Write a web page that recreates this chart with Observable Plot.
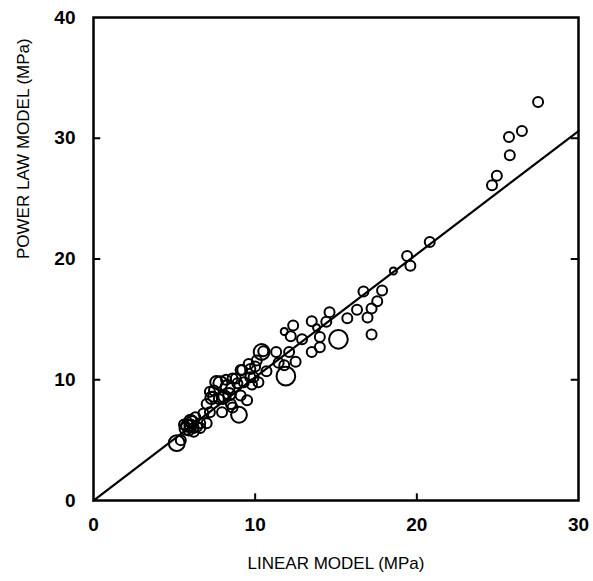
<!DOCTYPE html>
<html><head><meta charset="utf-8">
<script src="https://cdn.jsdelivr.net/npm/d3@7"></script>
<script src="https://cdn.jsdelivr.net/npm/@observablehq/plot@0.6"></script>
<style>body{margin:0;background:#fff} svg{display:block}</style>
</head><body><div id="chart"></div>
<script>
// Linear model stress (MPa), power-law model stress (MPa), relative weight of each point
const linearModel = [
  27.5, 26.5, 25.7, 25.75, 24.95, 24.65,
  20.8, 19.4, 19.6, 18.55, 17.85, 16.7, 17.55, 17.2, 16.95, 16.3, 15.7, 17.2,
  14.6, 13.5, 14.4, 13.8, 14.0, 15.15, 14.0, 13.5, 12.35, 12.2, 12.9, 11.8,
  10.5, 11.3, 12.1, 11.9, 11.8, 10.1, 10.7, 9.9, 10.2, 12.5, 11.45, 10.4,
  9.7, 9.1, 8.8, 9.3, 9.2, 9.7, 7.85, 8.3, 7.45, 8.9, 9.1, 7.75, 8.6,
  7.0, 6.8, 6.6, 6.0, 5.7, 6.2, 5.15, 5.4, 7.0, 7.2, 7.95, 9.0, 9.5, 7.2,
  8.0, 5.8, 6.1, 6.4, 5.9, 6.3, 6.6, 8.2, 7.6, 8.6, 9.6, 10.0, 8.4, 7.4,
  6.0, 6.2, 5.6, 8.1, 8.5, 7.3, 9.8
];
const powerLawModel = [
  33.0, 30.6, 30.1, 28.6, 26.9, 26.1,
  21.4, 20.25, 19.45, 19.0, 17.4, 17.3, 16.5, 15.9, 15.15, 15.8, 15.1, 13.75,
  15.6, 14.85, 14.8, 14.3, 13.55, 13.35, 12.7, 12.3, 14.5, 13.6, 13.35, 14.0,
  12.35, 12.3, 12.3, 10.3, 11.2, 11.6, 10.7, 10.2, 9.8, 11.5, 11.4, 12.3,
  10.9, 10.8, 10.1, 9.8, 10.8, 10.2, 9.7, 9.4, 9.1, 9.7, 8.7, 8.4, 7.7,
  8.0, 7.2, 6.4, 6.6, 5.95, 5.7, 4.75, 5.0, 6.4, 7.3, 7.3, 7.1, 8.3, 9.0,
  8.5, 6.2, 6.5, 6.1, 5.8, 6.9, 6.0, 10.0, 9.8, 10.1, 11.3, 11.1, 8.8, 8.6,
  6.2, 6.0, 6.3, 8.6, 8.0, 8.5, 9.6
];
const weight = [
  2, 2, 2, 2, 2, 2,
  2, 2, 2, 1, 2, 2, 2, 2, 2, 2, 2, 2,
  2, 2, 2, 1, 2, 7, 2, 2, 2, 2, 2, 1,
  2, 2, 2, 7, 2, 2, 2, 2, 2, 2, 2, 5,
  2, 2, 2, 2, 2, 2, 4, 4, 2, 2, 2, 2, 2,
  2, 2, 2, 3, 3, 2, 5, 2, 2, 2, 2, 5, 2, 2,
  3, 3, 3, 2, 2, 2, 2, 2, 3, 2, 2, 2, 3, 2,
  3, 2, 2, 3, 2, 3, 2
];
const xTicks = [0, 10, 20, 30];
const yTicks = [0, 10, 20, 30, 40];
const fitX = [0, 30];
const fitY = [0, 30.6];

const points = linearModel.map((x, i) => ({x, y: powerLawModel[i], w: weight[i]}));
const fit = fitX.map((x, i) => ({x, y: fitY[i]}));
const innerX = xTicks.slice(1, -1);
const innerY = yTicks.slice(1, -1);

const chart = Plot.plot({
  width: 593,
  height: 581,
  marginLeft: 93,
  marginRight: 15,
  marginTop: 17,
  marginBottom: 81,
  style: {fontFamily: "'Liberation Sans', Arial, sans-serif", background: "#fff", color: "#000"},
  x: {domain: [0, 30]},
  y: {domain: [0, 40]},
  r: {type: "sqrt", domain: [0, 8], range: [0, 10]},
  marks: [
    Plot.axisX({ticks: xTicks, tickSize: 0, tickPadding: 17, fontSize: 19, fontWeight: "bold", label: null}),
    Plot.axisY({ticks: yTicks, tickSize: 0, tickPadding: 18, fontSize: 19, fontWeight: "bold", label: null}),
    Plot.ruleX(innerX, {x: d => d, y1: 0, y2: 0.55, strokeWidth: 2}),
    Plot.ruleY(innerY, {y: d => d, x1: 0, x2: 0.45, strokeWidth: 2}),
    Plot.ruleY(innerY, {y: d => d, x1: 29.55, x2: 30, strokeWidth: 2}),
    Plot.line(fit, {x: "x", y: "y", stroke: "#000", strokeWidth: 2.2}),
    Plot.dot(points, {x: "x", y: "y", r: "w", stroke: "#000", strokeWidth: 2, fill: "none"}),
    Plot.frame({stroke: "#000", strokeWidth: 2.5}),
    Plot.text(["LINEAR MODEL (MPa)"], {frameAnchor: "bottom", dy: 68, fontSize: 17, fill: "#000"}),
    Plot.text(["POWER LAW MODEL (MPa)"], {frameAnchor: "left", rotate: -90, dx: -70, fontSize: 17, fill: "#000"})
  ]
});
document.getElementById("chart").appendChild(chart);
</script>
</body></html>
